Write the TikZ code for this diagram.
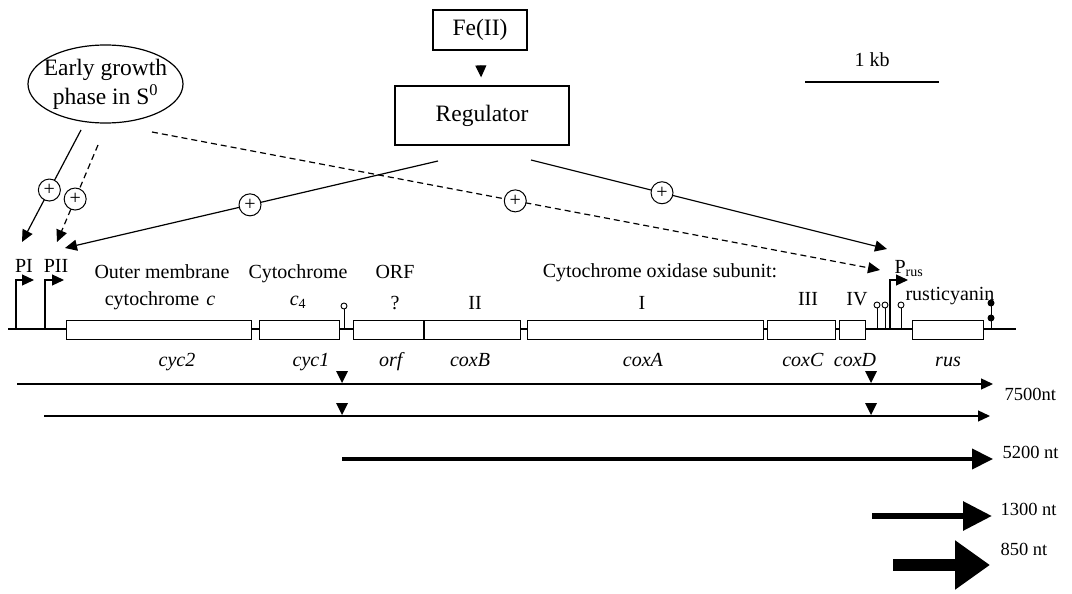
\documentclass[tikz,border=0pt]{standalone}
\usepackage{fontspec}
\setmainfont{Liberation Serif}
\usetikzlibrary{arrows.meta,shapes}

\begin{document}
\begin{tikzpicture}[x=1pt,y=-1pt,>={Triangle[length=12pt,width=11pt]},line width=1.2pt,
		gene/.style={draw,fill=white,rectangle,minimum height=19pt,minimum width=#1,inner sep=0pt,anchor=west,line width=1pt},
		lbl/.style={font=\fontsize{20}{24}\selectfont,inner sep=0pt,anchor=base},
		big/.style={font=\fontsize{23.5}{29}\selectfont,align=center},
		len/.style={font=\fontsize{18.5}{22}\selectfont,inner sep=0pt,anchor=base west},
		plus/.style={circle,draw,fill=white,minimum size=22pt,inner sep=0pt,line width=1pt,font=\fontsize{20}{20}\selectfont},
		hit/.style={circle,draw,fill=white,inner sep=0pt,minimum size=6pt,line width=0.9pt},
		stop/.style={circle,fill=black,inner sep=0pt,minimum size=7pt}]
		\useasboundingbox (0,0) rectangle (1072,594);
		
		% signals
		\node[draw,big,minimum width=94pt,minimum height=40pt](fe) at (480,30) {Fe(II)};
		\node[draw,big,minimum width=174pt,minimum height=59pt](reg) at (482,115.5) {Regulator};
		\node[draw,ellipse,minimum width=155pt,minimum height=78pt,inner sep=0pt](early) at (105.5,84) {};
		\node[big,inner sep=0pt](earlytxt) at (early) {Early growth\\phase in S\textsuperscript{0}};
		\draw[->,shorten <=17pt,shorten >=8pt] (fe) -- (reg);
		
		% scale bar
		\coordinate (kbL) at (805,82);
		\coordinate (kbR) at (939,82);
		\draw[line width=1.3pt] (kbL) -- (kbR);
		\node[lbl](kb) at (872,67) {1 kb};
		
		% DNA
		\coordinate (dnaL) at (8,329);
		\coordinate (dnaR) at (1016,329);
		\draw[line width=1.4pt] (dnaL) -- (dnaR);
		\foreach \g/\x/\w in {cyc2/66/185,cyc1/259/80,orf/353/70,coxB/424/96,coxA/527/236,coxC/767/68,coxD/839/26,rus/912/71}
		\node[gene=\w pt](\g) at (\x,330) {};
		
		% promoters
		\coordinate (pI) at (16,329);
		\coordinate (pII) at (45,329);
		\coordinate (prus) at (890,329);
		\draw[->] (pI) -- ++(0,-49) -- ++(18,0);
		\draw[->] (pII) -- ++(0,-49) -- ++(19,0);
		\draw[->] (prus) -- ++(0,-49) -- ++(18,0);
		\node[lbl](pIl) at (24,272) {PI};
		\node[lbl](pIIl) at (56,272) {PII};
		\node[lbl,anchor=base west](prusl) at (894,273) {P\textsubscript{rus}};
		
		% terminators
		\draw[line width=1pt] (344,329) -- (344,308);
		\node[hit](t1) at (344,306) {};
		\foreach \x in {877,885,901}{
			\draw[line width=1pt] (\x,329) -- (\x,308);
			\node[hit](t\x) at (\x,305) {};
		}
		\draw[line width=1pt] (991,329) -- (991,303);
		\node[stop](s1) at (991,303) {};
		\node[stop](s2) at (991,318) {};
		
		% regulation
		\coordinate (regL) at (438,161);
		\coordinate (regR) at (531,160);
		\coordinate (dsh) at (152,132);
		\coordinate (eA) at (81,130);
		\coordinate (eB) at (98,145);
		\coordinate (toPI) at (22,242);
		\coordinate (toPII) at (57,242);
		\coordinate (toPIIr) at (65,248);
		\coordinate (toRus) at (887,249);
		\coordinate (toRusD) at (880,270);
		\path
		(regL) edge[->] node[plus,pos=0.504] {+} (toPIIr)
		(regR) edge[->] node[plus,pos=0.368] {+} (toRus)
		(dsh) edge[->,dash pattern=on 6pt off 4pt] node[plus,solid,pos=0.499] {+} (toRusD)
		(eA) edge[->] node[plus,pos=0.536] {+} (toPI)
		(eB) edge[->,dash pattern=on 6pt off 4pt] node[plus,solid,pos=0.557] {+} (toPII);
		
		% gene labels
		\node[lbl](l1) at (162,278) {Outer membrane};
		\node[lbl](l2) at (160,305) {cytochrome\hspace{7pt}\textit{c}};
		\node[lbl](l3) at (298,278) {Cytochrome};
		\node[lbl](l4) at (298,305) {\textit{c}\textsubscript{4}};
		\node[lbl](l5) at (395,278) {ORF};
		\node[lbl](l6) at (395,309) {?};
		\node[lbl](l7) at (660,277) {Cytochrome oxidase subunit:};
		\node[lbl](l8) at (475,309) {II};
		\node[lbl](l9) at (642,309) {I};
		\node[lbl](l10) at (808,305) {III};
		\node[lbl](l11) at (857,305) {IV};
		\node[lbl](l12) at (950,300) {rusticyanin};
		\foreach \g/\x in {cyc2/177,cyc1/311,orf/392,coxB/470,coxA/643,coxC/803,coxD/855,rus/948}
		\node[lbl](n\g) at (\x,366) {\textit{\g}};
		
		% transcripts
		\coordinate (a1) at (17,384);   \coordinate (b1) at (993,384);
		\coordinate (a2) at (44,416);   \coordinate (b2) at (990,416);
		\coordinate (a3) at (342,459);  \coordinate (b3) at (993,459);
		\coordinate (a4) at (872,516);  \coordinate (b4) at (992,516);
		\coordinate (a5) at (893,565);  \coordinate (b5) at (990,565);
		\draw[->,line width=1.3pt] (a1) -- (b1);
		\draw[->,line width=1.3pt] (a2) -- (b2);
		\draw[-{Triangle[length=21pt,width=20pt]},line width=4pt] (a3) -- (b3);
		\draw[-{Triangle[length=29pt,width=28pt]},line width=6pt] (a4) -- (b4);
		\draw[-{Triangle[length=35pt,width=47pt]},line width=12pt] (a5) -- (b5);
		\foreach \x in {342,871}
		\foreach \y in {383,415}
		\fill (\x-6,\y-12) -- (\x+6,\y-12) -- (\x,\y) -- cycle;
		\node[len](n7500) at (1004,400) {7500nt};
		\node[len](n5200) at (1002,458) {5200 nt};
		\node[len](n1300) at (1000,515) {1300 nt};
		\node[len](n850) at (1000,555) {850 nt};
		
	\end{tikzpicture}
\end{document}
